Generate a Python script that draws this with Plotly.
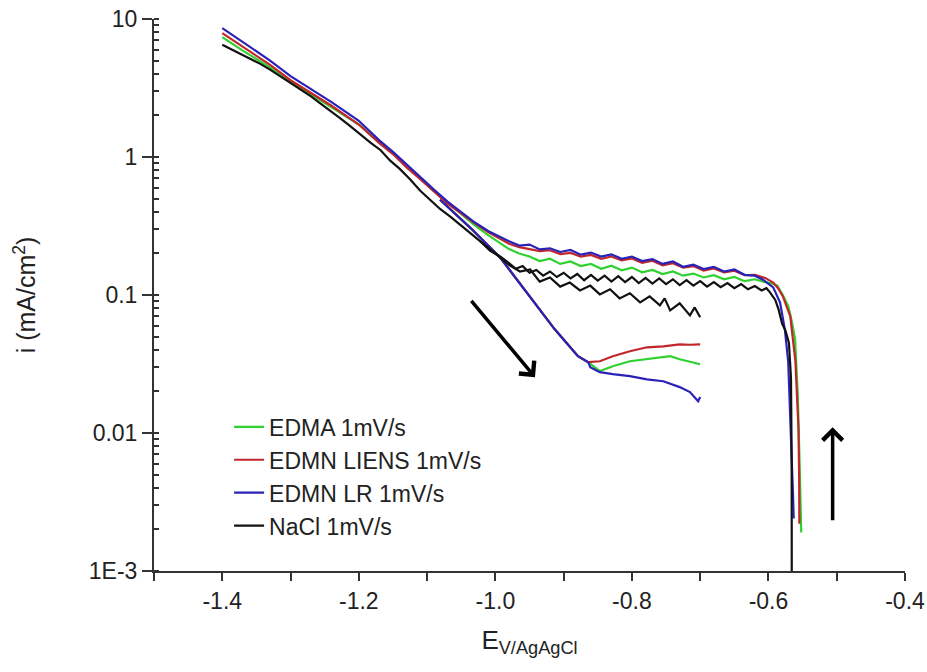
import math
import plotly.graph_objects as go

# ---------------- data (E in V vs Ag/AgCl, i in mA/cm2) ----------------
series_names = ["EDMA 1mV/s", "EDMN LIENS 1mV/s", "EDMN LR 1mV/s", "NaCl 1mV/s"]
series_colors = ["#2fd12f", "#c0262a", "#2a22b8", "#111111"]

# EDMA - full scan
edma_E = [-1.400, -1.370, -1.330, -1.300, -1.270, -1.240, -1.200, -1.170, -1.150, -1.130,
          -1.110, -1.090, -1.070, -1.050, -1.030, -1.010, -0.995, -0.980, -0.965, -0.950,
          -0.935, -0.920, -0.905, -0.890, -0.875, -0.860, -0.845, -0.830, -0.815, -0.800,
          -0.785, -0.770, -0.755, -0.740, -0.725, -0.710, -0.695, -0.680, -0.665, -0.650,
          -0.635, -0.620, -0.605, -0.595, -0.587, -0.579, -0.571, -0.566, -0.561, -0.559,
          -0.557, -0.555, -0.553, -0.552]
edma_i = [7.4, 5.9, 4.45, 3.5, 2.85, 2.3, 1.72, 1.28, 1.06, 0.85,
          0.70, 0.565, 0.465, 0.385, 0.32, 0.27, 0.24, 0.215, 0.200, 0.190,
          0.176, 0.183, 0.168, 0.175, 0.162, 0.168, 0.155, 0.163, 0.151, 0.158,
          0.146, 0.152, 0.142, 0.148, 0.138, 0.143, 0.134, 0.139, 0.130, 0.135,
          0.126, 0.130, 0.124, 0.121, 0.117, 0.100, 0.083, 0.065, 0.048, 0.032,
          0.0185, 0.008, 0.0035, 0.0019]
# EDMA - short scan
edma_E2 = [-1.081, -1.037, -0.993, -0.949, -0.913, -0.879, -0.864, -0.847, -0.828, -0.803,
           -0.778, -0.744, -0.730, -0.715, -0.700]
edma_i2 = [0.49, 0.308, 0.187, 0.0961, 0.0564, 0.036, 0.0326, 0.0281, 0.0305, 0.0331,
           0.0342, 0.0360, 0.0342, 0.0328, 0.0315]

# EDMN LIENS - full scan
liens_E = [-1.400, -1.370, -1.330, -1.300, -1.270, -1.240, -1.200, -1.170, -1.150, -1.130,
           -1.110, -1.090, -1.070, -1.050, -1.030, -1.010, -0.995, -0.980, -0.965, -0.950,
           -0.935, -0.920, -0.905, -0.890, -0.875, -0.860, -0.845, -0.830, -0.815, -0.800,
           -0.785, -0.770, -0.755, -0.740, -0.725, -0.710, -0.695, -0.680, -0.665, -0.650,
           -0.635, -0.620, -0.605, -0.593, -0.586, -0.579, -0.573, -0.568, -0.5605, -0.558,
           -0.556, -0.555, -0.5547]
liens_i = [7.9, 6.3, 4.65, 3.6, 2.9, 2.35, 1.72, 1.26, 1.05, 0.84,
           0.69, 0.56, 0.46, 0.39, 0.33, 0.285, 0.26, 0.235, 0.222, 0.215,
           0.208, 0.211, 0.198, 0.202, 0.190, 0.195, 0.183, 0.190, 0.178, 0.184,
           0.171, 0.177, 0.164, 0.170, 0.158, 0.162, 0.150, 0.156, 0.146, 0.150,
           0.139, 0.140, 0.133, 0.123, 0.112, 0.098, 0.083, 0.070, 0.033, 0.018,
           0.0107, 0.0045, 0.0022]
liens_E2 = [-1.081, -1.037, -0.993, -0.949, -0.913, -0.879, -0.864, -0.847, -0.828, -0.803,
            -0.778, -0.754, -0.730, -0.715, -0.700]
liens_i2 = [0.49, 0.308, 0.187, 0.0961, 0.0564, 0.036, 0.0326, 0.0331, 0.0360, 0.0391,
            0.0418, 0.0425, 0.0439, 0.0436, 0.0439]

# EDMN LR - full scan
lr_E = [-1.400, -1.370, -1.330, -1.300, -1.270, -1.240, -1.200, -1.170, -1.150, -1.130,
        -1.110, -1.090, -1.070, -1.050, -1.030, -1.010, -0.995, -0.980, -0.965, -0.950,
        -0.935, -0.920, -0.905, -0.890, -0.875, -0.860, -0.845, -0.830, -0.815, -0.800,
        -0.785, -0.770, -0.755, -0.740, -0.725, -0.710, -0.695, -0.680, -0.665, -0.650,
        -0.635, -0.620, -0.608, -0.593, -0.583, -0.576, -0.571, -0.567, -0.564, -0.563]
lr_i = [8.6, 6.8, 5.0, 3.85, 3.12, 2.5, 1.83, 1.32, 1.09, 0.88,
        0.72, 0.58, 0.475, 0.40, 0.335, 0.29, 0.265, 0.245, 0.228, 0.232,
        0.214, 0.218, 0.205, 0.212, 0.196, 0.203, 0.190, 0.197, 0.183, 0.190,
        0.176, 0.182, 0.168, 0.175, 0.160, 0.166, 0.154, 0.160, 0.148, 0.153,
        0.140, 0.138, 0.129, 0.1135, 0.0883, 0.0564, 0.0326, 0.0107, 0.0035, 0.0024]
lr_E2 = [-1.081, -1.037, -0.993, -0.949, -0.913, -0.879, -0.864, -0.861, -0.847, -0.828,
         -0.803, -0.778, -0.754, -0.730, -0.715, -0.703, -0.700]
lr_i2 = [0.49, 0.308, 0.187, 0.0961, 0.0564, 0.036, 0.0326, 0.0300, 0.0276, 0.0267,
         0.0258, 0.0245, 0.0237, 0.0215, 0.0198, 0.0170, 0.0182]

# NaCl - full scan
nacl_E = [-1.400, -1.380, -1.360, -1.345, -1.330, -1.315, -1.300, -1.286, -1.270, -1.255,
          -1.242, -1.228, -1.213, -1.198, -1.183, -1.168, -1.154, -1.140, -1.125, -1.110,
          -1.095, -1.081, -1.066, -1.052, -1.037, -1.022, -1.008, -0.993, -0.980, -0.970,
          -0.960, -0.950, -0.940, -0.930, -0.920, -0.910, -0.900, -0.890, -0.880, -0.870,
          -0.860, -0.850, -0.840, -0.830, -0.820, -0.810, -0.800, -0.790, -0.780, -0.770,
          -0.760, -0.750, -0.740, -0.730, -0.720, -0.710, -0.700, -0.690, -0.680, -0.670,
          -0.660, -0.650, -0.640, -0.630, -0.620, -0.610, -0.603, -0.598, -0.590, -0.585,
          -0.580, -0.575, -0.570, -0.567, -0.566, -0.5658]
nacl_i = [6.5, 5.8, 5.2, 4.75, 4.3, 3.85, 3.45, 3.07, 2.75, 2.42,
          2.15, 1.92, 1.68, 1.45, 1.27, 1.12, 0.94, 0.82, 0.69, 0.57,
          0.49, 0.42, 0.37, 0.325, 0.28, 0.245, 0.21, 0.19, 0.17, 0.155,
          0.162, 0.145, 0.152, 0.138, 0.148, 0.135, 0.145, 0.132, 0.142, 0.128,
          0.140, 0.127, 0.138, 0.125, 0.137, 0.124, 0.135, 0.122, 0.133, 0.121,
          0.132, 0.120, 0.130, 0.118, 0.128, 0.117, 0.126, 0.115, 0.124, 0.114,
          0.122, 0.112, 0.120, 0.110, 0.116, 0.108, 0.112, 0.105, 0.092, 0.078,
          0.062, 0.055, 0.045, 0.025, 0.006, 0.0004]
# NaCl - short scan
nacl_E2 = [-1.022, -0.993, -0.979, -0.964, -0.949, -0.935, -0.920, -0.905, -0.891, -0.876,
           -0.861, -0.847, -0.832, -0.818, -0.803, -0.788, -0.774, -0.759, -0.752, -0.744,
           -0.730, -0.715, -0.708, -0.700]
nacl_i2 = [0.245, 0.187, 0.164, 0.148, 0.153, 0.125, 0.134, 0.115, 0.123, 0.108,
           0.117, 0.101, 0.110, 0.0945, 0.103, 0.0884, 0.0977, 0.0841, 0.0945, 0.0774,
           0.0870, 0.0712, 0.0813, 0.0689]

full_E = [edma_E, liens_E, lr_E, nacl_E]
full_i = [edma_i, liens_i, lr_i, nacl_i]
short_E = [edma_E2, liens_E2, lr_E2, nacl_E2]
short_i = [edma_i2, liens_i2, lr_i2, nacl_i2]

x_tickvals = [-1.4, -1.2, -1.0, -0.8, -0.6, -0.4]
x_ticktext = ["-1.4", "-1.2", "-1.0", "-0.8", "-0.6", "-0.4"]
y_tickvals = [0.001, 0.01, 0.1, 1, 10]
y_ticktext = ["1E-3", "0.01", "0.1", "1", "10"]

# arrows (start, end) in data units
diag_arrow = {"E0": -1.037, "i0": 0.0929, "E1": -0.942, "i1": 0.0254}
up_arrow = {"E0": -0.506, "i0": 0.00227, "E1": -0.506, "i1": 0.0110}

# ---------------- figure ----------------
FONT = "Liberation Sans, Arial, sans-serif"
fig = go.Figure()
order = [0, 1, 2, 3]  # green under red under blue, black on top
for k in order:
    fig.add_trace(go.Scatter(x=full_E[k], y=full_i[k], mode="lines", name=series_names[k],
                             legendgroup=series_names[k], showlegend=True, legendrank=k,
                             line=dict(color=series_colors[k], width=2.2)))
    fig.add_trace(go.Scatter(x=short_E[k], y=short_i[k], mode="lines", name=series_names[k],
                             legendgroup=series_names[k], showlegend=False,
                             line=dict(color=series_colors[k], width=2.2)))

for a in (diag_arrow, up_arrow):
    fig.add_annotation(x=a["E1"], y=math.log10(a["i1"]), ax=a["E0"], ay=math.log10(a["i0"]),
                       xref="x", yref="y", axref="x", ayref="y", text="", showarrow=True,
                       arrowhead=4, arrowsize=1.1, arrowwidth=3.5, arrowcolor="#000000")

axis_col = "#333333"
fig.update_layout(
    width=927, height=672,
    margin=dict(l=154, r=22, t=19, b=101, autoexpand=False),
    paper_bgcolor="white", plot_bgcolor="white",
    font=dict(family=FONT, size=23, color="#222222"),
    showlegend=True,
    legend=dict(x=0.10, y=0.30, xanchor="left", yanchor="top", bgcolor="rgba(0,0,0,0)",
                font=dict(size=23, family=FONT, color="#222222"), tracegroupgap=0,
                traceorder="normal"),
    xaxis=dict(range=[-1.5, -0.4], tickmode="array", tickvals=x_tickvals, ticktext=x_ticktext,
               automargin=False, ticklabeloverflow="allow",
               ticks="outside", ticklen=8, tickwidth=2, tickcolor=axis_col,
               tickfont=dict(size=23),
               showline=True, linewidth=2, linecolor=axis_col, showgrid=False, zeroline=False,
               minor=dict(tick0=-1.5, dtick=0.1, ticks="outside", ticklen=8, tickwidth=2,
                          tickcolor=axis_col, showgrid=False),
               title=dict(text="E<sub>V/AgAgCl</sub>", font=dict(size=26, family=FONT), standoff=18)),
    yaxis=dict(type="log", range=[-3, 1], tickmode="array", tickvals=y_tickvals, ticktext=y_ticktext,
               automargin=False, ticklabeloverflow="allow",
               ticks="outside", ticklen=10, tickwidth=2, tickcolor=axis_col,
               tickfont=dict(size=23),
               showline=True, linewidth=2, linecolor=axis_col, showgrid=False, zeroline=False,
               minor=dict(dtick="D1", ticks="inside", ticklen=5, tickwidth=1.5,
                          tickcolor=axis_col, showgrid=False),
               title=dict(text="i (mA/cm<sup>2</sup>)", font=dict(size=25, family=FONT), standoff=46)),
)

# remove the default page margin so the figure sits at the window's top-left corner
fig.write_html("out.html", config={"displayModeBar": False},
               post_script="document.body.style.margin='0';document.body.style.overflow='hidden';")
